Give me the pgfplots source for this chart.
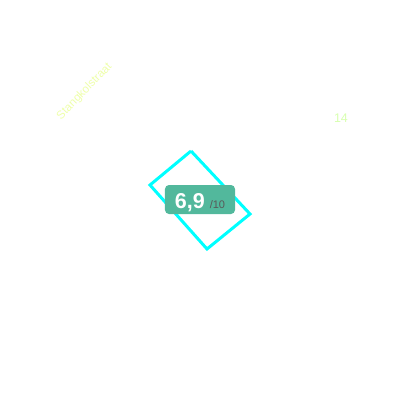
\documentclass[border=0pt]{standalone}
\usepackage{pgfplots}
\pgfplotsset{compat=1.18}
\usepackage{fontspec}
\setmainfont{Liberation Sans}
\definecolor{boxgreen}{HTML}{52B89C}
\definecolor{pcyan}{HTML}{00FFFF}
\definecolor{labelyellow}{HTML}{EEFFAA}
\definecolor{numgreen}{HTML}{D8FFB0}
\begin{document}
\begin{tikzpicture}
\begin{axis}[
  width=400bp, height=400bp, scale only axis,
  xmin=0, xmax=400, ymin=0, ymax=400, y dir=reverse,
  hide axis, clip=false,
]
\path[use as bounding box] (rel axis cs:0,0) rectangle (rel axis cs:1,1);
\addplot[draw=pcyan, line width=3bp, line join=miter] coordinates {
  (191,151) (250,214) (207,249) (150,185) (191,151)
};
\node[fill=boxgreen, rounded corners=4bp, minimum width=70bp, minimum height=29bp, inner sep=0pt]
  at (axis cs:200,199.5) {};
\node[anchor=base, inner sep=0pt, text=white] at (axis cs:200,208)
  {\fontsize{21.5bp}{24bp}\selectfont\bfseries 6,9\hspace{5bp}\fontsize{11bp}{12bp}\selectfont\mdseries\color{black!65}/10};
\node[rotate=46, text=labelyellow, inner sep=0pt] at (axis cs:84.5,91.5) {\fontsize{11.5bp}{13bp}\selectfont Stangkolstraat};
\node[text=numgreen, inner sep=0pt] at (axis cs:341,118) {\fontsize{12.5bp}{14bp}\selectfont 14};
\end{axis}
\end{tikzpicture}
\end{document}
